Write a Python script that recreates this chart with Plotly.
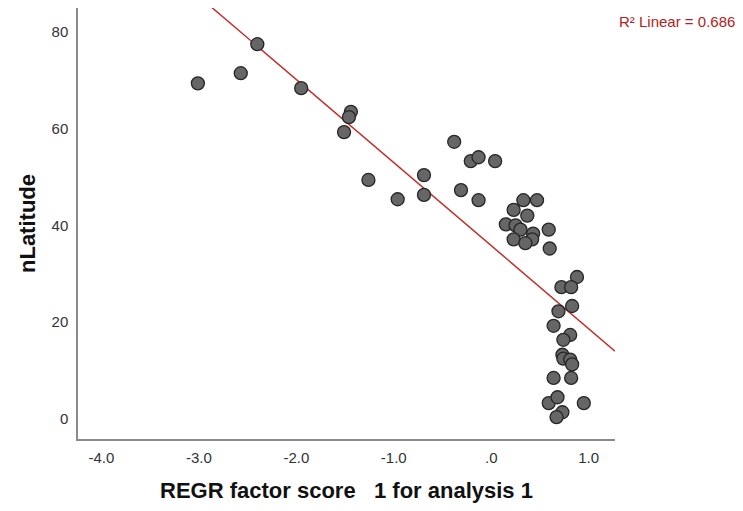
import numpy as np
import plotly.graph_objects as go

factor_score = [-3.01, -2.57, -2.40, -1.95, -1.44, -1.46, -1.51, -1.26, -0.96, -0.69,
                -0.69, -0.38, -0.21, -0.13, 0.04, -0.31, -0.13, 0.33, 0.47, 0.23,
                0.37, 0.15, 0.25, 0.30, 0.59, 0.23, 0.43, 0.42, 0.35, 0.60,
                0.88, 0.72, 0.82, 0.83, 0.69, 0.64, 0.81, 0.74, 0.73, 0.74,
                0.81, 0.83, 0.64, 0.82, 0.59, 0.68, 0.95, 0.73, 0.67]
n_latitude = [69.4, 71.5, 77.5, 68.4, 63.5, 62.4, 59.3, 49.4, 45.4, 50.4,
              46.3, 57.3, 53.3, 54.1, 53.3, 47.3, 45.2, 45.2, 45.2, 43.2,
              42.0, 40.2, 40.0, 39.1, 39.1, 37.1, 38.3, 37.1, 36.3, 35.2,
              29.3, 27.2, 27.2, 23.3, 22.2, 19.2, 17.3, 16.3, 13.2, 12.4,
              12.2, 11.2, 8.4, 8.4, 3.2, 4.4, 3.2, 1.3, 0.3]

fit_intercept = 35.8
fit_slope = -17.2
r2_label = "R² Linear = 0.686"

x_ticks = [-4.0, -3.0, -2.0, -1.0, 0.0, 1.0]
x_tick_labels = ["-4.0", "-3.0", "-2.0", "-1.0", ".0", "1.0"]
y_ticks = [0, 20, 40, 60, 80]

x_range = [-4.24, 1.27]
y_range = [-4.24, 85.0]

FONT = "Arial, Liberation Sans, sans-serif"

fig = go.Figure()

fx = np.array(x_range)
fig.add_trace(go.Scatter(
    x=fx, y=fit_intercept + fit_slope * fx, mode="lines",
    line=dict(color="#c0302b", width=1.5), hoverinfo="skip", showlegend=False))

fig.add_trace(go.Scatter(
    x=factor_score, y=n_latitude, mode="markers",
    marker=dict(size=13, color="#666666", line=dict(color="#262626", width=1.3)),
    showlegend=False))

fig.add_annotation(
    xref="paper", yref="paper", x=(737 - 78) / 537, y=(439 - 22) / 431,
    xanchor="right", yanchor="middle", text=r2_label, showarrow=False,
    font=dict(family=FONT, size=15, color="#b22222"))

fig.update_layout(
    width=743, height=511,
    margin=dict(l=78, r=128, t=8, b=72),
    paper_bgcolor="white", plot_bgcolor="white",
    font=dict(family=FONT, size=15, color="#333333"),
    xaxis=dict(range=x_range, tickvals=x_ticks, ticktext=x_tick_labels,
               showgrid=False, zeroline=False, showline=True,
               linecolor="#8a8a8a", linewidth=1.5, ticks="", ticklen=0,
               ticklabelstandoff=4,
               tickfont=dict(size=15, color="#333333"),
               title=dict(text="<b>REGR factor score   1 for analysis 1</b>",
                          font=dict(size=22, color="#111111"), standoff=18)),
    yaxis=dict(range=y_range, tickvals=y_ticks,
               showgrid=False, zeroline=False, showline=True,
               linecolor="#8a8a8a", linewidth=1.5, ticks="", ticklen=0,
               ticklabelstandoff=5,
               tickfont=dict(size=15, color="#333333"),
               title=dict(text="<b>nLatitude</b>",
                          font=dict(size=22, color="#111111"), standoff=10)),
)

fig.write_html("out.html")
